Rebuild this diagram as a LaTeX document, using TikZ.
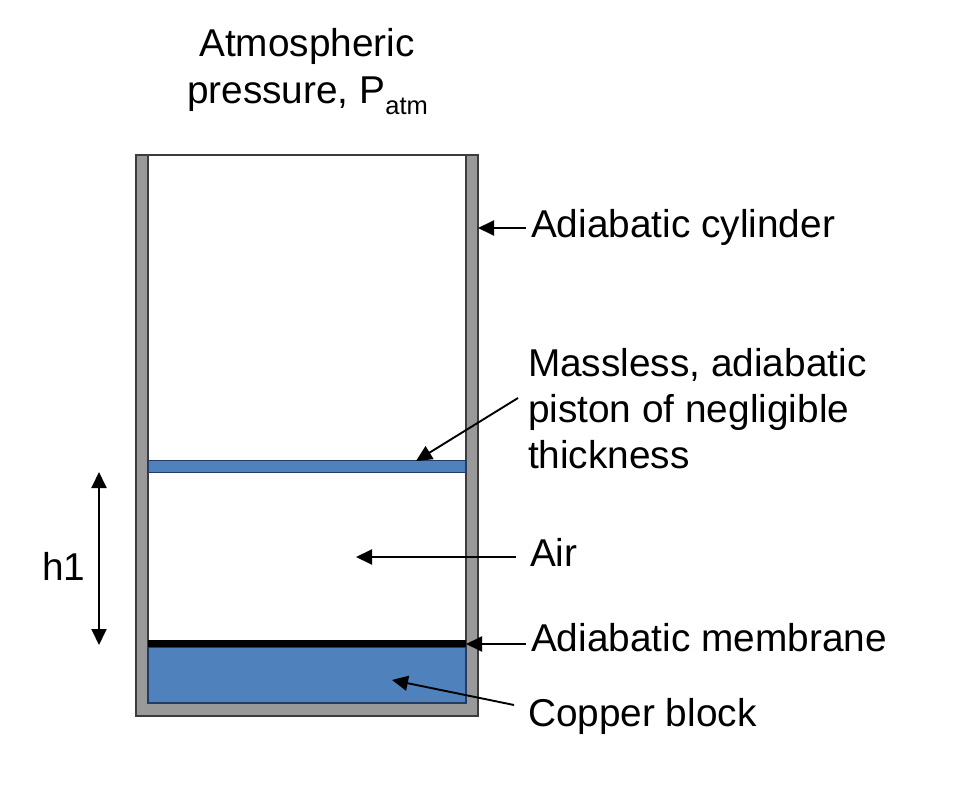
\documentclass[tikz,border=0pt]{standalone}
\usepackage{fontspec}
\setmainfont{Liberation Sans}
\usetikzlibrary{arrows.meta}
\definecolor{wallgray}{RGB}{153,153,153}
\definecolor{edgegray}{RGB}{60,60,60}
\definecolor{blockblue}{RGB}{79,129,189}
\definecolor{blockedge}{RGB}{35,60,100}
\tikzset{
  wall/.style={draw=edgegray,fill=wallgray,line width=1.3pt},
  blockfill/.style={draw=blockedge,fill=blockblue,line width=1.3pt,minimum height=0pt},
  lbl/.style={anchor=base west,inner sep=0pt,outer sep=0pt,font=\fontsize{38.8}{46}\selectfont},
  lblc/.style={anchor=base,inner sep=0pt,outer sep=0pt,font=\fontsize{38.8}{46}\selectfont},
  conn/.style={draw=black,line width=1.9pt,-{Triangle[length=16pt,width=15pt]}},
  conn2/.style={draw=black,line width=1.9pt,{Triangle[length=16pt,width=15pt]}-{Triangle[length=16pt,width=15pt]}}
}
\begin{document}
\begin{tikzpicture}[x=1pt,y=-1pt]
\useasboundingbox (0,0) rectangle (959,786);
% cylinder
\draw[wall] (136,155) -- (148,155) -- (148,703) -- (466,703) -- (466,155) -- (478,155) -- (478,716) -- (136,716) -- cycle;
\draw[draw=edgegray,line width=1.3pt] (148,155) -- (466,155);
% piston
\draw[blockfill] (148,460.5) rectangle (466,472.5);
% copper block and membrane
\draw[blockfill] (148,647) rectangle (466,703);
\fill[black] (148,640) rectangle (466,647);
% labels
\node[lblc] (atm1) at (307,56.5) {Atmospheric};
\node[lblc] (atm2) at (307.5,104) {pressure, P\raisebox{-0.27em}{\fontsize{25.5}{30}\selectfont atm}};
\node[lbl] (cyl) at (531,238) {Adiabatic cylinder};
\node[lbl] (pis1) at (528,376.5) {Massless, adiabatic};
\node[lbl] (pis2) at (528,422.5) {piston of negligible};
\node[lbl] (pis3) at (528,468) {thickness};
\node[lbl] (air) at (530,566.5) {Air};
\node[lbl] (mem) at (531,651) {Adiabatic membrane};
\node[lbl] (cop) at (528,726) {Copper block};
\node[lbl] (h) at (42,580) {h1};
% connector ends
\coordinate (cylT) at (526,228);
\coordinate (cylH) at (478,228);
\coordinate (pisT) at (518,398);
\coordinate (pisH) at (416,461);
\coordinate (airT) at (516,557);
\coordinate (airH) at (356,557);
\coordinate (memT) at (526,644);
\coordinate (memH) at (466,644);
\coordinate (copT) at (514,705);
\coordinate (copH) at (392,680);
\coordinate (hA) at (99,472);
\coordinate (hB) at (99,645);
\draw[conn] (cylT) -- (cylH);
\draw[conn] (pisT) -- (pisH);
\draw[conn] (airT) -- (airH);
\draw[conn] (memT) -- (memH);
\draw[conn] (copT) -- (copH);
\draw[conn2] (hA) -- (hB);
\end{tikzpicture}
\end{document}
